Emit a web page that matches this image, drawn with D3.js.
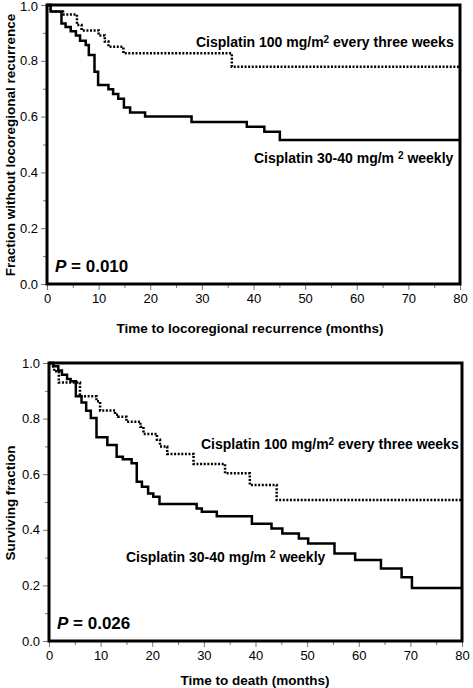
<!DOCTYPE html>
<html><head><meta charset="utf-8">
<script src="https://cdn.jsdelivr.net/npm/d3@7"></script>
<style>
html,body{margin:0;padding:0;background:#fff;}
text{font-family:"Liberation Sans",Arial,Helvetica,sans-serif;fill:#000;}
</style></head>
<body>
<script>
// ---- Data: top panel (locoregional recurrence) ----
const lrcWeeklyTimes  = [0, 0.7, 2.8, 3.6, 4.6, 5.6, 6.4, 7.5, 8.1, 9.2, 9.9, 11.9, 12.8, 13.8, 14.9, 16.1, 19, 28, 38.7, 42.1, 45.1, 80];
const lrcWeeklyValues = [1, 0.977, 0.934, 0.921, 0.906, 0.891, 0.872, 0.857, 0.821, 0.761, 0.713, 0.698, 0.681, 0.664, 0.633, 0.615, 0.600, 0.581, 0.564, 0.546, 0.516, 0.516];
const lrc3wTimes  = [0, 0.7, 3.1, 5.8, 6.7, 10.0, 11.2, 11.9, 14.8, 35.8, 80];
const lrc3wValues = [1, 0.977, 0.966, 0.928, 0.909, 0.891, 0.869, 0.850, 0.827, 0.779, 0.779];

// ---- Data: bottom panel (overall survival) ----
const osWeeklyTimes  = [0, 0.8, 1.8, 2.5, 3.5, 4.2, 5.2, 6.3, 7.2, 8.1, 9.2, 11.3, 13.1, 14.3, 16, 17, 18, 19.2, 20.2, 21.4, 28.6, 29.6, 32.5, 39.3, 43.1, 45.2, 48.4, 50.2, 55.3, 59.3, 64.3, 68.3, 70.3, 80];
const osWeeklyValues = [1, 0.988, 0.973, 0.958, 0.942, 0.934, 0.880, 0.858, 0.828, 0.802, 0.733, 0.705, 0.663, 0.654, 0.639, 0.573, 0.555, 0.531, 0.519, 0.493, 0.477, 0.465, 0.449, 0.422, 0.405, 0.387, 0.369, 0.351, 0.315, 0.291, 0.261, 0.229, 0.191, 0.191];
const os3wTimes  = [0, 0.8, 1.0, 1.9, 6.0, 9.2, 9.9, 12.8, 13.4, 15, 17.7, 18.3, 20.9, 21.5, 22.9, 28, 34.1, 38.9, 44.1, 80];
const os3wValues = [1, 0.988, 0.970, 0.930, 0.880, 0.862, 0.829, 0.814, 0.807, 0.789, 0.771, 0.745, 0.724, 0.700, 0.673, 0.637, 0.603, 0.561, 0.507, 0.507];

// ---- Ticks / labels ----
const xMajorTicks = [0, 10, 20, 30, 40, 50, 60, 70, 80];
const xMinorTicks = [5, 15, 25, 35, 45, 55, 65, 75];
const yMajorTicks = [0, 0.2, 0.4, 0.6, 0.8, 1.0];
const yMinorTicks = [0.1, 0.3, 0.5, 0.7, 0.9];
const seriesLabel3w = "Cisplatin 100 mg/m";
const seriesLabel3wTail = " every three weeks";
const seriesLabelWk = "Cisplatin 30-40 mg/m ";
const seriesLabelWkTail = " weekly";

const svg = d3.select("body").append("svg").attr("width", 473).attr("height", 688);

function panel(cfg) {
  const x = d3.scaleLinear().domain([0, 80]).range([cfg.x0, cfg.x1]);
  const y = d3.scaleLinear().domain([0, 1]).range([cfg.y0, cfg.y1]);
  const g = svg.append("g");

  // minor ticks
  g.append("g").attr("transform", `translate(0,${cfg.y0})`)
    .call(d3.axisBottom(x).tickValues(xMinorTicks).tickSize(4).tickFormat(""))
    .call(s => { s.select(".domain").remove(); s.selectAll("line").attr("stroke", "#777").attr("stroke-width", 1); });
  g.append("g").attr("transform", `translate(${cfg.x0},0)`)
    .call(d3.axisLeft(y).tickValues(yMinorTicks).tickSize(4).tickFormat(""))
    .call(s => { s.select(".domain").remove(); s.selectAll("line").attr("stroke", "#777").attr("stroke-width", 1); });
  // major ticks
  g.append("g").attr("transform", `translate(0,${cfg.y0})`)
    .call(d3.axisBottom(x).tickValues(xMajorTicks).tickSize(6).tickPadding(4).tickFormat(d3.format("d")))
    .call(s => { s.select(".domain").remove(); s.selectAll("line").attr("stroke", "#777").attr("stroke-width", 1);
      s.selectAll("text").attr("font-size", 13).attr("font-family", "Liberation Sans, Arial, sans-serif").attr("fill", "#000"); });
  g.append("g").attr("transform", `translate(${cfg.x0},0)`)
    .call(d3.axisLeft(y).tickValues(yMajorTicks).tickSize(6).tickPadding(3).tickFormat(d3.format(".1f")))
    .call(s => { s.select(".domain").remove(); s.selectAll("line").attr("stroke", "#777").attr("stroke-width", 1);
      s.selectAll("text").attr("font-size", 13).attr("font-family", "Liberation Sans, Arial, sans-serif").attr("fill", "#000")
        .attr("dy", d => (d === 1 && cfg.y1 < 10) ? "0.42em" : "0.32em"); });

  // frame
  g.append("rect").attr("x", cfg.x0).attr("y", cfg.y1).attr("width", cfg.x1 - cfg.x0).attr("height", cfg.y0 - cfg.y1)
    .attr("fill", "none").attr("stroke", "#000").attr("stroke-width", 3);

  const line = d3.line().curve(d3.curveStepAfter).x(d => x(d[0])).y(d => y(d[1]));
  g.append("path").datum(d3.zip(cfg.t3w, cfg.v3w)).attr("d", line)
    .attr("fill", "none").attr("stroke", "#000").attr("stroke-width", 2.5).attr("stroke-dasharray", "2,1.6");
  g.append("path").datum(d3.zip(cfg.tWk, cfg.vWk)).attr("d", line)
    .attr("fill", "none").attr("stroke", "#000").attr("stroke-width", 2.5);

  // series labels
  const fs = 14;
  const l1 = g.append("text").attr("x", cfg.lab3w[0]).attr("y", cfg.lab3w[1]).attr("font-size", fs).attr("font-weight", "bold");
  l1.append("tspan").text(seriesLabel3w);
  l1.append("tspan").attr("dy", -4.5).attr("font-size", 10).text("2");
  l1.append("tspan").attr("dy", 4.5).text(seriesLabel3wTail);
  const l2 = g.append("text").attr("x", cfg.labWk[0]).attr("y", cfg.labWk[1]).attr("font-size", fs).attr("font-weight", "bold");
  l2.append("tspan").text(seriesLabelWk);
  l2.append("tspan").attr("dy", -4.5).attr("font-size", 10).text("2");
  l2.append("tspan").attr("dy", 4.5).text(seriesLabelWkTail);

  // P value
  const p = g.append("text").attr("x", cfg.x0 + 8).attr("y", cfg.y0 - 12).attr("font-size", 17).attr("font-weight", "bold");
  p.append("tspan").attr("font-style", "italic").text("P");
  p.append("tspan").text(" = " + cfg.p);

  // axis titles
  g.append("text").attr("x", cfg.xTitleX).attr("y", cfg.xTitleY).attr("text-anchor", "middle")
    .attr("font-size", 13.5).attr("font-weight", "bold").text(cfg.xTitle);
  g.append("text").attr("transform", `translate(${cfg.yTitleX},${cfg.yTitleY}) rotate(-90)`).attr("text-anchor", "middle")
    .attr("font-size", 13.5).attr("font-weight", "bold").text(cfg.yTitle);
}

panel({x0: 47, x1: 460, y0: 284, y1: 5,
  tWk: lrcWeeklyTimes, vWk: lrcWeeklyValues, t3w: lrc3wTimes, v3w: lrc3wValues,
  lab3w: [196, 47], labWk: [254, 163], p: "0.010",
  xTitle: "Time to locoregional recurrence (months)", xTitleX: 250, xTitleY: 333,
  yTitle: "Fraction without locoregional recurrence", yTitleX: 15, yTitleY: 145});

panel({x0: 49, x1: 462, y0: 641, y1: 363,
  tWk: osWeeklyTimes, vWk: osWeeklyValues, t3w: os3wTimes, v3w: os3wValues,
  lab3w: [201, 449], labWk: [126, 562], p: "0.026",
  xTitle: "Time to death (months)", xTitleX: 255, xTitleY: 685,
  yTitle: "Surviving fraction", yTitleX: 15, yTitleY: 503});
</script>
</body></html>
